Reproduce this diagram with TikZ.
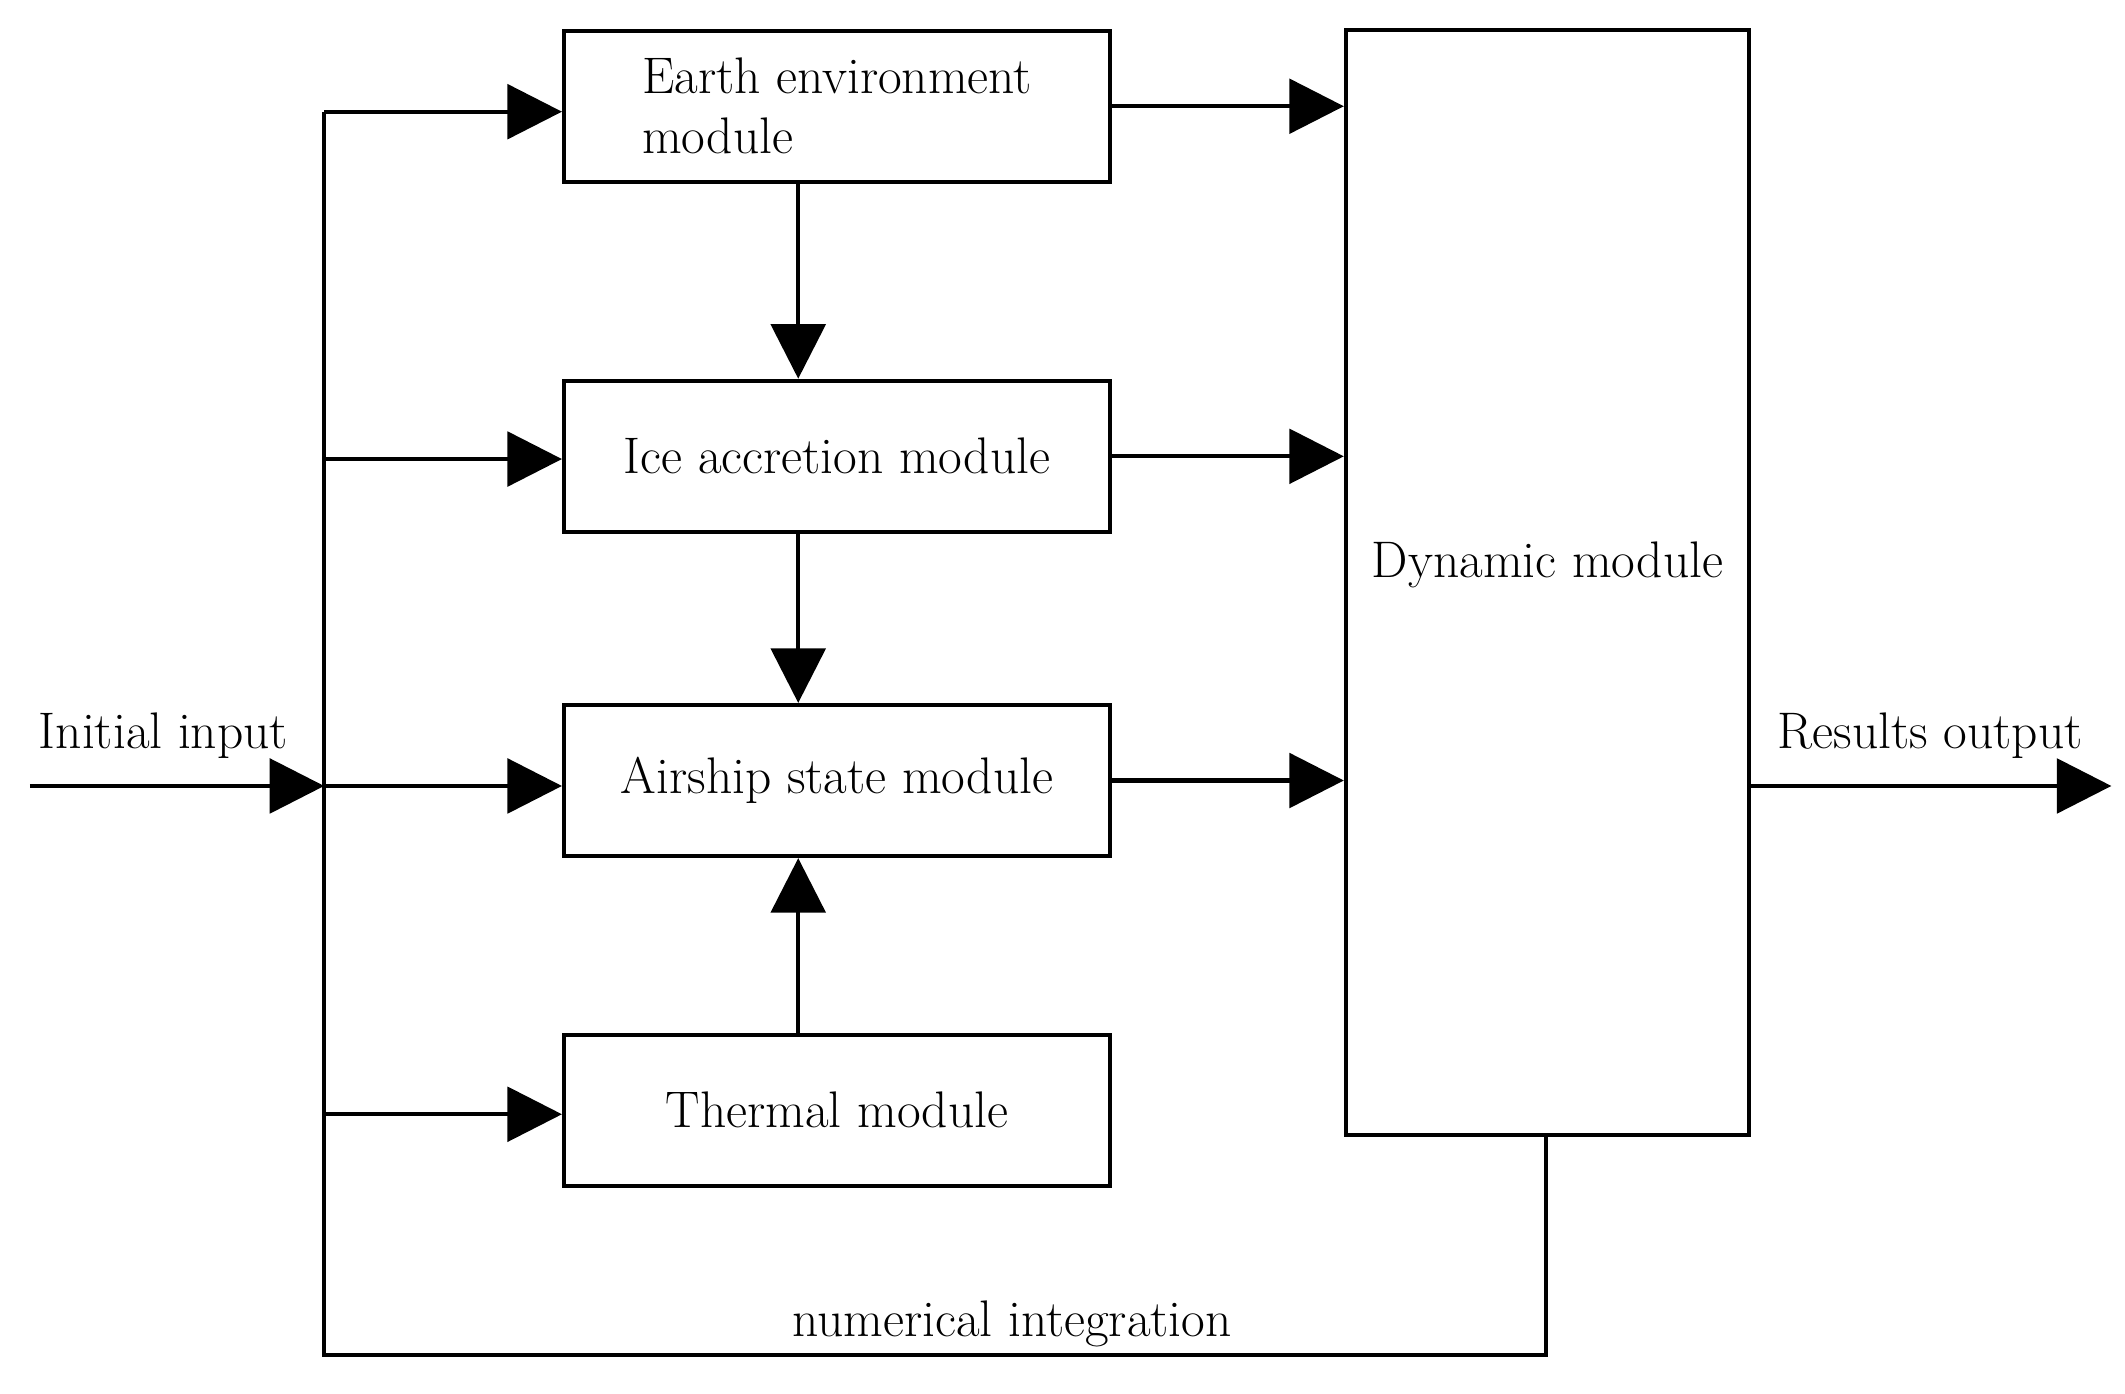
\documentclass[tikz,border=0pt]{standalone}
\usetikzlibrary{arrows.meta}
\begin{document}
\begin{tikzpicture}
[
x=0.02cm,y=-0.02cm,
line width=1.7pt,
module/.style={draw,minimum width=8.02cm,minimum height=2.22cm,align=left,font=\fontsize{21.5}{25}\selectfont},
flow/.style={-{Triangle[length=0.8cm,width=0.8cm]}},
]
\useasboundingbox (0,0) rectangle (1560,1023);

%Place the nodes
\node[module] (earth) at (614.5,78) {Earth environment\\module};
\node[module] (ice) at (614.5,335) {Ice accretion module};
\node[module] (air) at (614.5,573) {Airship state module};
\node[module] (therm) at (614.5,815) {Thermal module};
\node[draw,minimum width=5.92cm,minimum height=16.22cm,inner sep=0pt,font=\fontsize{21.5}{25}\selectfont] (dyn) at (1136,427.5) {};
\node[font=\fontsize{21.5}{25}\selectfont] (dynl) at (1136,415) {Dynamic module};
\coordinate (in) at (22,577);
\coordinate (out) at (1550,577);
\coordinate (b1) at (238,82);
\coordinate (b2) at (238,337);
\coordinate (b3) at (238,577);
\coordinate (b4) at (238,818);
\coordinate (bl) at (238,995);
\coordinate (br) at (1135,995);

%Draw the connections
\draw[flow] (in) -- (b3);
\draw (b1) -- (bl) -- (br) -- (dyn.south -| br);
\draw[flow] (b1) -- (b1 -| earth.west);
\draw[flow] (b2) -- (b2 -| ice.west);
\draw[flow] (b3) -- (b3 -| air.west);
\draw[flow] (b4) -- (b4 -| therm.west);
\draw[flow] (earth.south -| 586,0) -- (ice.north -| 586,0);
\draw[flow] (ice.south -| 586,0) -- (air.north -| 586,0);
\draw[flow] (therm.north -| 586,0) -- (air.south -| 586,0);
\draw[flow] (earth.east) -- (earth.east -| dyn.west);
\draw[flow] (ice.east) -- (ice.east -| dyn.west);
\draw[flow] (air.east) -- (air.east -| dyn.west);
\draw[flow] (dyn.east |- out) -- (out);
\node[font=\fontsize{21.5}{25}\selectfont] (lin) at (120,540) {Initial input};
\node[font=\fontsize{21.5}{25}\selectfont] (lout) at (1417,540) {Results output};
\node[font=\fontsize{21.5}{25}\selectfont] (lint) at (743,972) {numerical integration};
\end{tikzpicture}
\end{document}
